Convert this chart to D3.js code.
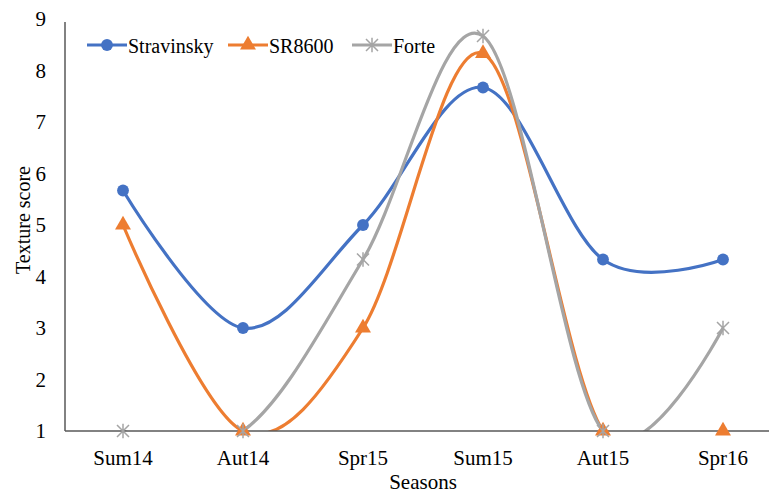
<!DOCTYPE html>
<html>
<head>
<meta charset="utf-8">
<script src="https://cdn.jsdelivr.net/npm/d3@7"></script>
<style>
  body { margin: 0; background: #fff; }
</style>
</head>
<body>
<div id="chart"></div>
<script>
var seasons = ["Sum14", "Aut14", "Spr15", "Sum15", "Aut15", "Spr16"];
var stravinsky = [5.67, 3, 5, 7.67, 4.33, 4.33];
var sr8600 = [5, 1, 3, 8.33, 1, 1];
var forte = [1, 1, 4.33, 8.67, 1, 3];
var yTicks = [1, 2, 3, 4, 5, 6, 7, 8, 9];

var width = 769, height = 493;
var serif = "Liberation Serif, DejaVu Serif, Noto Serif, serif";

var svg = d3.select("#chart")
  .append("svg")
  .attr("width", width)
  .attr("height", height)
  .style("font-family", serif);

var x = d3.scalePoint().domain(seasons).range([123, 723]);
var y = d3.scaleLinear().domain([1, 9]).range([431, 19]);

var series = [
  { name: "Stravinsky", values: stravinsky, color: "#4472C4", marker: "circle" },
  { name: "SR8600", values: sr8600, color: "#ED7D31", marker: "triangle" },
  { name: "Forte", values: forte, color: "#A5A5A5", marker: "star" }
];

svg.append("clipPath").attr("id", "plotclip")
  .append("rect")
  .attr("x", 65).attr("y", 0)
  .attr("width", width - 65).attr("height", y(1));

// axes
svg.append("line")
  .attr("x1", 65).attr("x2", 65)
  .attr("y1", 22).attr("y2", y(1))
  .attr("stroke", "#595959").attr("stroke-width", 1.5);

svg.selectAll(".ylab")
  .data(yTicks)
  .enter().append("text")
  .attr("class", "ylab")
  .attr("x", 46)
  .attr("y", function(d) { return y(d) + 7; })
  .style("font-family", serif)
  .style("font-size", "21px")
  .style("text-anchor", "end")
  .text(function(d) { return d; });

svg.selectAll(".xlab")
  .data(seasons)
  .enter().append("text")
  .attr("class", "xlab")
  .attr("x", function(d) { return x(d); })
  .attr("y", 465)
  .style("font-family", serif)
  .style("font-size", "21px")
  .style("text-anchor", "middle")
  .text(function(d) { return d; });

svg.append("text")
  .attr("transform", "translate(30," + 220 + ") rotate(-90)")
  .style("font-family", serif)
  .style("font-size", "20px")
  .style("text-anchor", "middle")
  .text("Texture score");

svg.append("text")
  .attr("x", 423).attr("y", 489)
  .style("font-family", serif)
  .style("font-size", "21px")
  .style("text-anchor", "middle")
  .text("Seasons");

var line = d3.line()
  .x(function(d, i) { return x(seasons[i]); })
  .y(function(d) { return y(d); })
  .curve(d3.curveCatmullRom.alpha(0));

var symbols = {
  circle: d3.symbol().type(d3.symbolCircle).size(110),
  triangle: d3.symbol().type(d3.symbolTriangle).size(110)
};

function drawMarker(g, kind, color, cx, cy) {
  if (kind == "star") {
    var r = 6;
    g.append("path")
      .attr("d", "M" + (cx - r) + "," + (cy - r) + "L" + (cx + r) + "," + (cy + r) +
        "M" + (cx - r) + "," + (cy + r) + "L" + (cx + r) + "," + (cy - r) +
        "M" + cx + "," + (cy - r * 1.2) + "L" + cx + "," + (cy + r * 1.2))
      .attr("stroke", color).attr("stroke-width", 1.5).attr("fill", "none");
  } else {
    g.append("path")
      .attr("d", symbols[kind]())
      .attr("transform", "translate(" + cx + "," + cy + ")")
      .attr("fill", color);
  }
}

series.forEach(function(s) {
  svg.append("path")
    .datum(s.values)
    .attr("clip-path", "url(#plotclip)")
    .attr("d", line)
    .attr("fill", "none")
    .attr("stroke", s.color)
    .attr("stroke-width", 3.2);
});

// x axis line over the curves
svg.append("line")
  .attr("x1", 65).attr("x2", width)
  .attr("y1", y(1)).attr("y2", y(1))
  .attr("stroke", "#595959").attr("stroke-width", 1.5);

series.forEach(function(s) {
  var g = svg.append("g");
  s.values.forEach(function(v, i) {
    drawMarker(g, s.marker, s.color, x(seasons[i]), y(v));
  });
});

// legend
var legendX = [87, 228, 352];
series.forEach(function(s, i) {
  var g = svg.append("g");
  var lx = legendX[i];
  g.append("line")
    .attr("x1", lx).attr("x2", lx + 40)
    .attr("y1", 45).attr("y2", 45)
    .attr("stroke", s.color).attr("stroke-width", 3.2);
  drawMarker(g, s.marker, s.color, lx + 20, 45);
  g.append("text")
    .attr("x", lx + 41).attr("y", 53)
    .style("font-family", serif)
    .style("font-size", "20px")
    .text(s.name);
});
</script>
</body>
</html>
